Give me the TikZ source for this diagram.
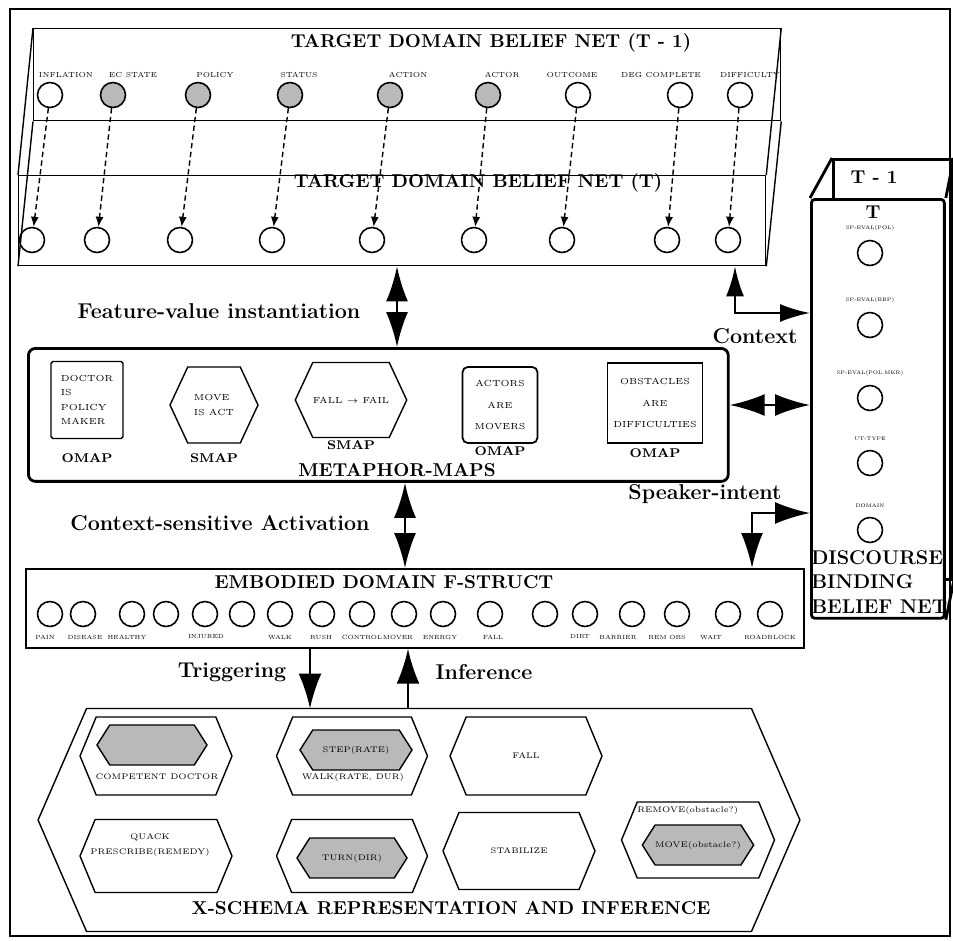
\documentclass[tikz,border=0pt]{standalone}
\usepackage{fontspec}
\usepackage{tikz}
\usetikzlibrary{arrows.meta,positioning,calc,shapes.symbols}
\definecolor{gris}{RGB}{185,185,185}

\begin{document}
\begin{tikzpicture}[x=0.02cm,y=-0.02cm,
panel/.style={draw,line width=0.8pt,anchor=north west,inner sep=0pt},
bnode/.style={circle,draw,line width=0.9pt,minimum size=0.5cm,inner sep=0pt},
gnode/.style={bnode,fill=gris},
hexa/.style={signal,signal to=east and west,signal pointer angle=135,draw,line width=0.8pt,inner sep=0pt,outer sep=0pt},
ghexa/.style={hexa,fill=gris,signal pointer angle=115},
head/.style={font=\bfseries\fontsize{10.6}{12}\selectfont,inner sep=0pt},
side/.style={font=\bfseries\fontsize{12.2}{14}\selectfont,inner sep=0pt},
mlbl/.style={font=\bfseries\fontsize{7.2}{8}\selectfont,inner sep=0pt},
mtxt/.style={font=\fontsize{5}{8}\selectfont,align=center},
lbl/.style={font=\fontsize{4.1}{5}\selectfont,inner sep=0pt},
elbl/.style={font=\fontsize{3.4}{4}\selectfont,inner sep=0pt},
dlbl/.style={font=\fontsize{2.9}{3.5}\selectfont,inner sep=0pt},
xlbl/.style={font=\fontsize{4.6}{8.5}\selectfont,inner sep=0pt,align=center},
dasharr/.style={densely dashed,line width=0.8pt,-{Latex[length=2mm,width=1.6mm]}},
arr/.style={-{Latex[length=7mm,width=4.6mm]},line width=1.3pt},
dblarr/.style={{Latex[length=7mm,width=4.4mm]}-{Latex[length=7mm,width=4.4mm]},line width=1.3pt},
dblarrs/.style={{Latex[length=6mm,width=3.6mm]}-{Latex[length=6mm,width=3.6mm]},line width=1.3pt}
]
\useasboundingbox (0,0) rectangle (953,940);
\draw[line width=1.6pt] (10,9) rectangle (950,936);

% target domain belief net
\node[panel,minimum width=14.94cm,minimum height=1.84cm] (back) at (33,28) {};
\node[panel,minimum width=14.94cm,minimum height=1.8cm] (front) at (18,175) {};
\foreach \a in {north west,south west,north east,south east}
  \draw[line width=0.8pt] (back.\a) -- (front.\a);
\node[head] at (491,43) {TARGET DOMAIN BELIEF NET (T - 1)};
\node[head] at (478,183) {TARGET DOMAIN BELIEF NET (T)};
\foreach \n/\x/\lx/\t/\s in {1/50/66/INFLATION/bnode,2/113/133/EC STATE/gnode,3/198/215/POLICY/gnode,4/290/299/STATUS/gnode,5/390/408/ACTION/gnode,6/488/502/ACTOR/gnode,7/578/572/OUTCOME/bnode,8/680/661/DEG COMPLETE/bnode,9/740/750/DIFFICULTY/bnode}{
  \node[\s] (t\n) at (\x,95) {};
  \node[lbl] at (\lx,75) {\t};
}
\foreach \n/\x in {1/32,2/97,3/180,4/272,5/372,6/474,7/562,8/667,9/728}{
  \node[bnode] (b\n) at (\x,240) {};
  \draw[dasharr] (t\n) -- (b\n);
}

% metaphor maps
\node[panel,line width=1.6pt,rounded corners=4pt,minimum width=14cm,minimum height=2.66cm] (mm) at (27,347) {};
\node[draw,line width=0.8pt,rounded corners=1pt,minimum width=1.44cm,minimum height=1.54cm,mtxt,align=left] (om1) at (87,400) {DOCTOR\\IS\\POLICY\\MAKER};
\node[hexa,signal pointer angle=130,minimum width=1.76cm,minimum height=1.52cm,mtxt,align=left] (sm1) at (214,405) {MOVE\\IS ACT};
\node[hexa,signal pointer angle=130,minimum width=1.76cm,minimum height=1.5cm,mtxt] (sm2) at (351,400) {FALL $\to$ FAIL};
\node[draw,line width=1pt,rounded corners=3pt,minimum width=1.5cm,minimum height=1.52cm,mtxt,font=\fontsize{5}{12}\selectfont] (om2) at (500,405) {ACTORS\\ARE\\MOVERS};
\node[draw,line width=0.8pt,minimum width=1.8cm,minimum height=1.6cm,mtxt,font=\fontsize{5}{12}\selectfont] (om3) at (655,403) {OBSTACLES\\ARE\\DIFFICULTIES};
\node[mlbl,below=2.9mm of om1] {OMAP};
\node[mlbl,below=2mm of sm1] {SMAP};
\node[mlbl,below=0.5mm of sm2] {SMAP};
\node[mlbl,below=0.4mm of om2] {OMAP};
\node[mlbl,below=1mm of om3] {OMAP};
\node[head] at (397,470) {METAPHOR-MAPS};

% embodied domain
\node[panel,line width=1pt,minimum width=15.56cm,minimum height=1.58cm] (emb) at (25,568) {};
\node[head] at (384,582) {EMBODIED DOMAIN F-STRUCT};
\foreach \x [count=\i] in {50,83,132,166,205,242,280,322,362,404,443,490,545,585,632,677,728,770}
  \node[bnode] (e\i) at (\x,614) {};
\foreach \x/\t in {45/PAIN,85/DISEASE,127/HEALTHY,206/INJURED,280/WALK,321/RUSH,362/CONTROL,398/MOVER,440/ENERGY,493/FALL,580/DIRT,618/BARRIER,667/REM OBS,711/WAIT,770/ROADBLOCK}
  \node[elbl] at (\x,637) {\t};

% discourse binding belief net
\node[panel,line width=1.6pt,minimum width=2.38cm,minimum height=8.4cm] (dback) at (832,158) {};
\node[panel,line width=1.6pt,rounded corners=2pt,fill=white,minimum width=2.66cm,minimum height=8.38cm] (dfront) at (810,198) {};
\draw[line width=1.6pt] (dback.north west) -- (dfront.north west);
\draw[line width=1.6pt] (dback.north east) -- (dfront.north east);
\draw[line width=1.6pt] (dback.south east) -- (dfront.south east);
\node[head] at (874,177) {T - 1};
\node[head] at (873,212) {T};
\foreach \y/\t [count=\i] in {253/SP-EVAL(POL),325/SP-EVAL(BBP),398/SP-EVAL(POL.MKR),463/UT-TYPE,530/DOMAIN}{
  \node[bnode] (d\i) at (870,\y) {};
  \node[dlbl,above=1.8mm of d\i] {\t};
}
\node[head,font=\bfseries\fontsize{11.3}{14}\selectfont,align=left,anchor=north west] at (811,550) {DISCOURSE\\BINDING\\BELIEF NET};

% x-schemas
\node[hexa,signal pointer angle=133,minimum width=15.24cm,minimum height=4.46cm] (xs) at (419,820) {};
\node[hexa,minimum width=3.04cm,minimum height=1.56cm] (xc) at (156,756) {};
\node[ghexa,minimum width=2.2cm,minimum height=0.8cm] (xcg) at (152,745) {};
\node[xlbl] at (157,777) {COMPETENT DOCTOR};
\node[hexa,minimum width=3.02cm,minimum height=1.56cm] (xw) at (352,756) {};
\node[ghexa,minimum width=2.24cm,minimum height=0.8cm,xlbl] (xwg) at (356,750) {STEP(RATE)};
\node[xlbl] at (353,777) {WALK(RATE, DUR)};
\node[hexa,minimum width=3.04cm,minimum height=1.56cm,xlbl] (xf) at (526,756) {FALL};
\node[hexa,minimum width=3.04cm,minimum height=1.46cm] (xq) at (156,856) {};
\node[xlbl] at (150,845) {QUACK\\PRESCRIBE(REMEDY)};
\node[hexa,minimum width=3.02cm,minimum height=1.46cm] (xt) at (352,856) {};
\node[ghexa,minimum width=2.2cm,minimum height=0.8cm,xlbl] (xtg) at (352,858) {TURN(DIR)};
\node[hexa,minimum width=3.04cm,minimum height=1.54cm,xlbl] (xb) at (519,851) {STABILIZE};
\node[hexa,minimum width=3.06cm,minimum height=1.52cm] (xr) at (698,840) {};
\node[xlbl,anchor=west] at (637,810) {REMOVE(obstacle?)};
\node[ghexa,minimum width=2.2cm,minimum height=0.8cm,xlbl] (xrg) at (698,845) {MOVE(obstacle?)};
\node[head] at (451,908) {X-SCHEMA REPRESENTATION AND INFERENCE};

% connectors
\coordinate (fv) at (397,0);
\coordinate (csa) at (405,0);
\coordinate (hz) at (0,405);
\coordinate (ctx) at (735,313);
\coordinate (spk) at (752,513);
\coordinate (trg) at (310,0);
\coordinate (inf) at (408,0);
\draw[dblarr] (front.south -| fv) -- (mm.north -| fv);
\node[side] at (219,311) {Feature-value instantiation};
\draw[dblarr] (mm.south -| csa) -- (emb.north -| csa);
\node[side] at (220,523) {Context-sensitive Activation};
\draw[dblarr] (mm.east |- hz) -- (dfront.west |- hz);
\draw[dblarrs] (front.south -| ctx) |- (dfront.west |- ctx);
\node[side] at (755,336) {Context};
\draw[dblarr] (emb.north -| spk) |- (dfront.west |- spk);
\node[side] at (705,494) {Speaker-intent};
\draw[arr] (emb.south -| trg) -- (xs.north -| trg);
\draw[arr] (xs.north -| inf) -- (emb.south -| inf);
\node[side] at (232,672) {Triggering};
\node[side] at (484,672) {Inference};
\end{tikzpicture}
\end{document}
